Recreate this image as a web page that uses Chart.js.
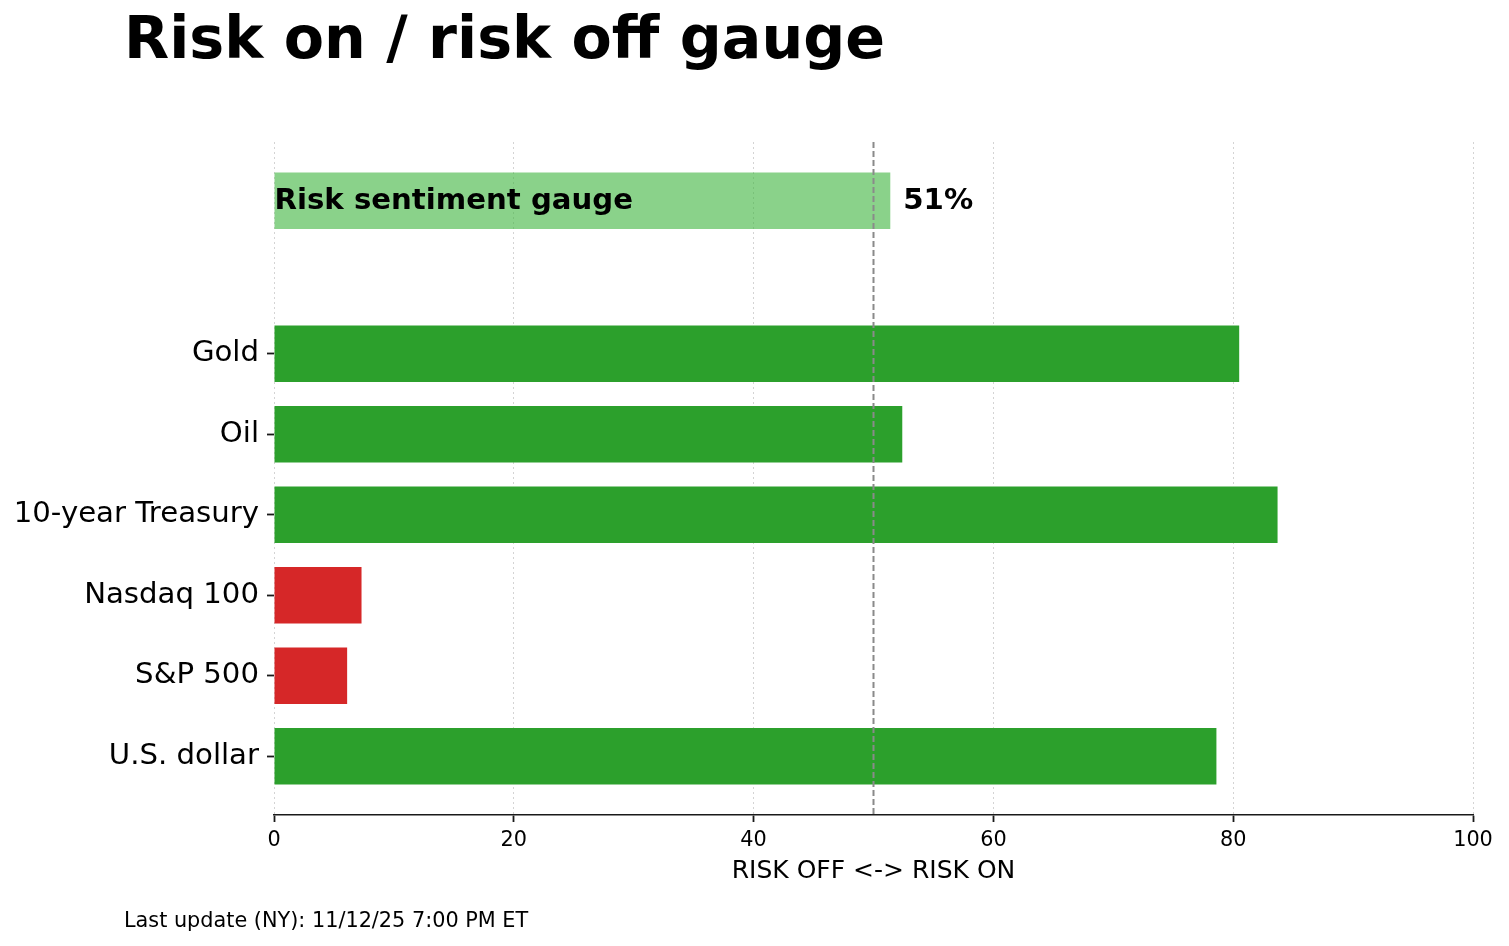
<!DOCTYPE html>
<html>
<head>
<meta charset="utf-8">
<title>Risk on / risk off gauge</title>
<script src="https://cdn.jsdelivr.net/npm/chart.js@4/dist/chart.umd.min.js"></script>
<style>
  html, body { margin: 0; padding: 0; background: #ffffff; }
</style>
</head>
<body>
<canvas id="gauge-chart" width="1509" height="946"></canvas>
<script>
// bar names, top to bottom (the first one is the overall gauge)
const categories = ['Risk sentiment gauge', 'Gold', 'Oil', '10-year Treasury', 'Nasdaq 100', 'S&P 500', 'U.S. dollar'];
// position of each bar on the vertical axis (gauge sits apart from the rest)
const positions = [6.9, 5, 4, 3, 2, 1, 0];
const scores = [51.4, 80.5, 52.4, 83.7, 7.3, 6.1, 78.6];
const barColors = ['rgba(60, 180, 60, 0.6)', '#2ca02c', '#2ca02c', '#2ca02c', '#d62728', '#d62728', '#2ca02c'];
const labelledPositions = [0, 1, 2, 3, 4, 5];
const xTicks = [0, 20, 40, 60, 80, 100];
const midline = 50;
const chartTitle = 'Risk on / risk off gauge';
const footNote = 'Last update (NY): 11/12/25 7:00 PM ET';

Chart.defaults.font.family = "'DejaVu Sans', sans-serif";
Chart.defaults.color = '#000000';

// dashed 50 line plus the text on the gauge bar
const gaugeNotes = {
    id: 'gaugeNotes',
    afterDatasetsDraw(chart) {
        const { ctx, chartArea, scales } = chart;
        const xm = scales.x.getPixelForValue(midline);
        ctx.save();
        ctx.strokeStyle = '#8a8a8a';
        ctx.lineWidth = 2;
        ctx.setLineDash([6, 3]);
        ctx.beginPath();
        ctx.moveTo(xm, chartArea.top);
        ctx.lineTo(xm, chartArea.bottom);
        ctx.stroke();
        ctx.setLineDash([]);

        const bar = chart.getDatasetMeta(0).data[0];
        ctx.font = "bold 29.2px 'DejaVu Sans'";
        ctx.fillStyle = '#000000';
        ctx.textBaseline = 'middle';
        ctx.textAlign = 'left';
        ctx.fillText(categories[0], bar.base, bar.y + 1);
        ctx.fillText(Math.round(scores[0]) + '%', bar.x + 13, bar.y + 1);
        ctx.restore();
    }
};

// big title and the update note, both flush with x = 124 like the original
const headerFooter = {
    id: 'headerFooter',
    afterDraw(chart) {
        const ctx = chart.ctx;
        ctx.save();
        ctx.fillStyle = '#000000';
        ctx.textAlign = 'left';
        ctx.textBaseline = 'middle';
        ctx.font = "bold 58.7px 'DejaVu Sans'";
        ctx.fillText(chartTitle, 124, 42.8);
        ctx.font = "20.8px 'DejaVu Sans'";
        ctx.fillText(footNote, 124, 921.2);
        ctx.restore();
    }
};

const ctx = document.getElementById('gauge-chart').getContext('2d');
const chart = new Chart(ctx, {
    type: 'bar',
    data: {
        datasets: [{
            data: categories.map((c, i) => ({ x: scores[i], y: positions[i] })),
            backgroundColor: barColors,
            borderWidth: 0,
            barPercentage: 0.7,
            categoryPercentage: 1.0
        }]
    },
    options: {
        indexAxis: 'y',
        responsive: false,
        animation: false,
        layout: {
            padding: { left: 0, right: 36, top: 142, bottom: 38.4 }
        },
        scales: {
            x: {
                type: 'linear',
                min: 0,
                max: 100,
                afterBuildTicks: (scale) => { scale.ticks = xTicks.map(v => ({ value: v })); },
                afterFit: (scale) => { scale.height = 92.6; },
                ticks: {
                    font: { size: 20.8 },
                    color: '#000000',
                    padding: 6,
                    maxRotation: 0
                },
                grid: {
                    color: '#d4d4d4',
                    lineWidth: 1,
                    tickLength: 7,
                    tickColor: '#1a1a1a',
                    tickWidth: 1.8,
                    tickBorderDash: []
                },
                border: {
                    display: true,
                    color: '#1a1a1a',
                    width: 1.6,
                    dash: [2, 3]
                },
                title: {
                    display: true,
                    text: 'RISK OFF <-> RISK ON',
                    font: { size: 25 },
                    color: '#000000',
                    padding: { top: 0, bottom: 21 }
                }
            },
            y: {
                type: 'linear',
                min: -0.73,
                max: 7.63,
                offset: false,
                afterBuildTicks: (scale) => { scale.ticks = labelledPositions.map(v => ({ value: v })); },
                afterFit: (scale) => { scale.width = 274; },
                ticks: {
                    callback: (value) => categories[positions.indexOf(value)],
                    font: { size: 29.2 },
                    color: '#000000',
                    padding: 8
                },
                grid: {
                    offset: false,
                    drawOnChartArea: false,
                    drawTicks: true,
                    tickLength: 7,
                    tickColor: '#1a1a1a',
                    tickWidth: 1.8
                },
                border: { display: false }
            }
        },
        plugins: {
            legend: { display: false },
            tooltip: { enabled: false },
            title: { display: false }
        }
    },
    plugins: [gaugeNotes, headerFooter]
});
</script>
</body>
</html>
